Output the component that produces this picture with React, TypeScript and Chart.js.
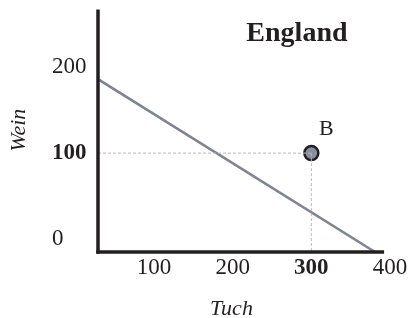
import React, { useEffect, useRef } from "react";
import { Chart, registerables } from "chart.js";

Chart.register(...registerables);

// ---- data ----
const xTickValues = [100, 200, 300, 400];
const yTickValues = [0, 100, 200];
const boldXTick = 300;
const boldYTick = 100;
const frontierX = [28.8, 381];
const frontierY = [186, -15];
const pointBX = 300;
const pointBY = 100;
const pointLabel = "B";
const countryTitle = "England";
const xAxisTitle = "Tuch";
const yAxisTitle = "Wein";
const xRange = [28.8, 400];
const yRange = [-15, 267];
const xAxisEnd = 392.5;
// label anchors (data space)
const titleAnchor = { x: 281.7, y: 230 };
const pointLabelAnchor = { x: 319, y: 121 };
const xTitleAnchor = { x: 198.5, y: -88 };
const yTitleAnchor = { x: -71.5, y: 126.6 };

const FONT = '"Liberation Serif", "Times New Roman", serif';
const axisColor = "#231f20";
const lineColor = "#7e8396";
const guideColor = "#b9b9b9";

export default function App() {
  const ref = useRef<HTMLCanvasElement>(null);

  useEffect(() => {
    if (!ref.current) return;

    const annotations = {
      id: "annotations",
      afterDatasetsDraw(chart: any) {
        const { ctx } = chart;
        const x = chart.scales.x;
        const y = chart.scales.y;
        ctx.save();
        // axis lines
        ctx.strokeStyle = axisColor;
        ctx.lineWidth = 3.5;
        ctx.lineCap = "butt";
        const left = x.getPixelForValue(xRange[0]);
        const bottom = y.getPixelForValue(yRange[0]);
        ctx.beginPath();
        ctx.moveTo(left, y.getPixelForValue(yRange[1]));
        ctx.lineTo(left, bottom + 1.75);
        ctx.stroke();
        ctx.beginPath();
        ctx.moveTo(left - 1.75, bottom);
        ctx.lineTo(x.getPixelForValue(xAxisEnd), bottom);
        ctx.stroke();

        // texts
        ctx.fillStyle = axisColor;
        ctx.textBaseline = "alphabetic";
        ctx.textAlign = "center";
        ctx.font = `bold 28px ${FONT}`;
        ctx.fillText(countryTitle, x.getPixelForValue(titleAnchor.x), y.getPixelForValue(titleAnchor.y));
        ctx.font = `22px ${FONT}`;
        ctx.fillText(pointLabel, x.getPixelForValue(pointLabelAnchor.x), y.getPixelForValue(pointLabelAnchor.y));
        ctx.font = `italic 22px ${FONT}`;
        ctx.fillText(xAxisTitle, x.getPixelForValue(xTitleAnchor.x), y.getPixelForValue(xTitleAnchor.y));
        ctx.translate(x.getPixelForValue(yTitleAnchor.x), y.getPixelForValue(yTitleAnchor.y));
        ctx.rotate(-Math.PI / 2);
        ctx.textBaseline = "middle";
        ctx.fillText(yAxisTitle, 0, 0);
        ctx.restore();
      },
    };

    const chart = new Chart(ref.current, {
      type: "scatter",
      data: {
        datasets: [
          {
            data: [
              { x: xRange[0], y: pointBY },
              { x: pointBX, y: pointBY },
            ],
            showLine: true,
            borderColor: guideColor,
            borderWidth: 1,
            borderDash: [3, 2],
            pointRadius: 0,
          },
          {
            data: [
              { x: pointBX, y: pointBY },
              { x: pointBX, y: yRange[0] },
            ],
            showLine: true,
            borderColor: guideColor,
            borderWidth: 1,
            borderDash: [3, 2],
            pointRadius: 0,
          },
          {
            data: frontierX.map((v, i) => ({ x: v, y: frontierY[i] })),
            showLine: true,
            borderColor: lineColor,
            borderWidth: 2.5,
            pointRadius: 0,
          },
          {
            data: [{ x: pointBX, y: pointBY }],
            pointRadius: 7,
            pointBorderWidth: 2.5,
            backgroundColor: "#8a8e9d",
            borderColor: axisColor,
          },
        ],
      },
      options: {
        animation: false,
        responsive: false,
        devicePixelRatio: 1,
        layout: { padding: { left: 52, top: 9, right: 21, bottom: 0 } },
        plugins: { legend: { display: false }, tooltip: { enabled: false } },
        scales: {
          x: {
            type: "linear",
            min: xRange[0],
            max: xRange[1],
            border: { display: false },
            grid: { display: false, drawTicks: false },
            afterBuildTicks: (s: any) => {
              s.ticks = xTickValues.map((v) => ({ value: v }));
            },
            afterFit: (s: any) => {
              s.height = 66;
              s.paddingLeft = 0;
              s.paddingRight = 0;
            },
            ticks: {
              padding: 2,
              color: axisColor,
              maxRotation: 0,
              autoSkip: false,
              font: (c: any) => ({
                family: FONT,
                size: 23,
                weight: c.tick && c.tick.value === boldXTick ? "bold" : "normal",
              }),
            },
          },
          y: {
            type: "linear",
            min: yRange[0],
            max: yRange[1],
            border: { display: false },
            grid: { display: false, drawTicks: false },
            afterBuildTicks: (s: any) => {
              s.ticks = yTickValues.map((v) => ({ value: v }));
            },
            afterFit: (s: any) => {
              s.width = 46;
              s.paddingTop = 0;
              s.paddingBottom = 0;
            },
            ticks: {
              padding: 9,
              crossAlign: "far",
              color: axisColor,
              autoSkip: false,
              font: (c: any) => ({
                family: FONT,
                size: 23,
                weight: c.tick && c.tick.value === boldYTick ? "bold" : "normal",
              }),
            },
          },
        },
      },
      plugins: [annotations],
    });

    return () => chart.destroy();
  }, []);

  return (
    <div style={{ position: "fixed", left: 0, top: 0, width: 411, height: 318, background: "#fff" }}>
      <canvas ref={ref} width={411} height={318} />
    </div>
  );
}
